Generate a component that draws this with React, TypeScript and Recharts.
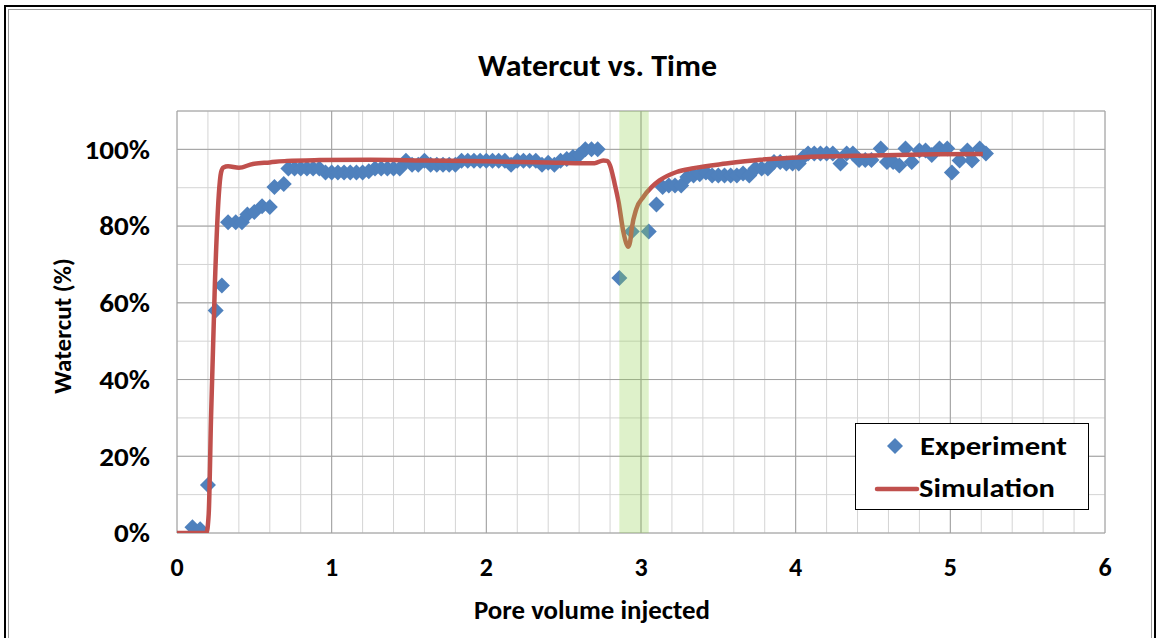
import React from 'react';
import { ComposedChart, Line, Scatter, XAxis, YAxis, CartesianGrid, ReferenceArea } from 'recharts';

// Experiment (pore volume injected, watercut %)
const expX = [
  0.10, 0.15, 0.20, 0.25, 0.29, 0.33, 0.38, 0.42, 0.455, 0.50, 0.55, 0.60, 0.63, 0.69,
  0.72, 0.76, 0.80, 0.84, 0.88, 0.92, 0.96, 1.00, 1.04, 1.08, 1.12, 1.16, 1.20, 1.24,
  1.28, 1.32, 1.36, 1.40, 1.44, 1.48, 1.52, 1.56, 1.60, 1.64, 1.68, 1.72, 1.76, 1.80,
  1.84, 1.88, 1.92, 1.96, 2.00, 2.04, 2.08, 2.12, 2.16, 2.20, 2.24, 2.28, 2.32, 2.36,
  2.40, 2.44, 2.48, 2.52, 2.56, 2.60, 2.64, 2.68, 2.72,
  2.86, 2.94, 3.05, 3.10, 3.14, 3.18, 3.22, 3.26, 3.30, 3.34, 3.38, 3.42, 3.46, 3.50,
  3.54, 3.58, 3.62, 3.66, 3.70, 3.74, 3.78, 3.82, 3.86, 3.90, 3.94, 3.98, 4.02, 4.05,
  4.08, 4.12, 4.16, 4.20, 4.24, 4.29, 4.33, 4.37, 4.41, 4.45, 4.49, 4.55, 4.59, 4.63,
  4.67, 4.71, 4.75, 4.80, 4.84, 4.88, 4.93, 4.98, 5.01, 5.06, 5.11, 5.14, 5.19, 5.23,
];
const expY = [
  1.5, 1.0, 12.5, 58, 64.5, 81, 81, 81, 83, 83.7, 85.2, 85, 90.2, 91,
  95, 95, 95, 95, 95, 95, 94, 94, 94, 94, 94, 94, 94, 94.3,
  95, 95, 95, 95, 95, 97, 96, 96, 97, 96, 96, 96, 96, 96,
  97, 97, 97, 97, 97, 97, 97, 97, 96, 97, 97, 97, 97, 96,
  96.5, 96, 97, 97.5, 98, 98.5, 100, 100, 100,
  66.5, 78.6, 78.6, 85.6, 90.2, 90.6, 90.6, 90.6, 92.8, 93.2, 93.5, 94, 93.2, 93.2,
  93.2, 93.2, 93.2, 93.7, 93.2, 95, 95, 95, 96.7, 96.7, 96.3, 96.3, 96.3, 98,
  98.9, 98.9, 98.9, 98.9, 98.9, 96.3, 98.9, 98.9, 97.2, 97.2, 97.2, 100.2, 96.7, 96.7,
  95.8, 100.2, 96.7, 99.7, 99.7, 98.5, 100.2, 100.2, 94, 97.1, 99.7, 97.1, 100.2, 98.9,
];

// Simulation curve
const simX = [
  0, 0.19, 0.205, 0.22, 0.245, 0.27, 0.285, 0.30, 0.33, 0.40, 0.49, 0.60, 0.71, 0.92,
  1.25, 1.60, 2.00, 2.40, 2.60, 2.70, 2.756, 2.78, 2.80, 2.83, 2.855, 2.886, 2.905,
  2.918, 2.93, 2.94, 2.97, 3.015, 3.07, 3.12, 3.23, 3.34, 3.55, 3.77, 4.07, 4.50, 4.90, 5.21,
];
const simY = [
  0, 0, 5, 30, 65, 88, 94, 95.3, 95.6, 95.2, 96.2, 96.6, 97, 97.2,
  97.3, 97.1, 96.9, 96.6, 96.4, 96.4, 97.1, 97, 95.8, 91, 86.3, 78.5, 75.5,
  74.6, 76, 79.3, 84.5, 87.6, 90.2, 91.9, 94.1, 95.1, 96.3, 97.3, 98, 98.4, 98.7, 98.8,
];

const xTicks = [0, 1, 2, 3, 4, 5, 6];
const yTicks = [0, 20, 40, 60, 80, 100];
const xMinor = Array.from({ length: 31 }, (_, i) => +(i * 0.2).toFixed(1));
const yMinor = Array.from({ length: 23 }, (_, i) => i * 5);
const band = [2.86, 3.05];

const experiment = expX.map((x, i) => ({ x, y: expY[i] }));
const simulation = simX.map((x, i) => ({ x, y: simY[i] }));

const FONT = 'Carlito, Lato, "Open Sans", sans-serif';
const BLUE = '#4F81BD';
const RED = '#C0504D';

const Diamond = (props: any) => {
  const { cx, cy } = props;
  if (cx == null || cy == null) return null;
  const r = 8;
  return <polygon points={`${cx},${cy - r} ${cx + r},${cy} ${cx},${cy + r} ${cx - r},${cy}`} fill={BLUE} />;
};

const YTick = (props: any) => {
  const { x, y, payload } = props;
  return (
    <text
      x={0}
      y={0}
      dy="0.36em"
      textAnchor="end"
      transform={`translate(${x},${y}) scale(1.12,1)`}
      fontFamily={FONT}
      fontWeight={700}
      fontSize={26}
      fill="#000"
    >
      {`${payload.value}%`}
    </text>
  );
};

export default function App() {
  return (
    <div style={{ position: 'absolute', left: 0, top: 0, width: 1159, height: 638, background: '#fff', overflow: 'hidden', fontFamily: FONT }}>
      <ComposedChart
        width={1159}
        height={638}
        margin={{ top: 111, right: 54, bottom: 45, left: 0 }}
        style={{ position: 'absolute', left: 0, top: 0 }}
      >
        <CartesianGrid stroke="#d4d4d4" strokeWidth={1} horizontalValues={yMinor} verticalValues={xMinor} />
        <CartesianGrid stroke="#a0a0a0" strokeWidth={1} horizontalValues={yTicks.concat([110])} verticalValues={xTicks} />
        <XAxis
          dataKey="x"
          type="number"
          domain={[0, 6]}
          ticks={xTicks}
          height={60}
          axisLine={false}
          tickLine={false}
          tickSize={0}
          tickMargin={25}
          tick={{ fill: '#000', fontSize: 26, fontWeight: 700, fontFamily: FONT }}
          allowDataOverflow
        />
        <YAxis
          dataKey="y"
          type="number"
          domain={[0, 110]}
          ticks={yTicks}
          width={177}
          axisLine={false}
          tickLine={false}
          tickSize={0}
          tickMargin={27}
          tick={<YTick />}
          allowDataOverflow
        />
        <Scatter data={experiment} dataKey="y" fill={BLUE} shape={<Diamond />} isAnimationActive={false} zIndex={600} />
        <Line data={simulation} dataKey="y" type="monotone" stroke={RED} strokeWidth={4.5} dot={false} activeDot={false} isAnimationActive={false} zIndex={700} />
        <ReferenceArea x1={band[0]} x2={band[1]} y1={0} y2={110} fill="#92D050" fillOpacity={0.3} stroke="none" zIndex={1500} ifOverflow="hidden" />
      </ComposedChart>
      <svg width={1159} height={638} style={{ position: 'absolute', left: 0, top: 0, pointerEvents: 'none' }}>
        <rect x={5} y={6} width={1150} height={660} fill="none" stroke="#000" strokeWidth={2} />
        <rect x={8.5} y={9.5} width={1143} height={660} fill="none" stroke="#9a9a9a" strokeWidth={1} />
        <text x={478} y={76} textLength={239} lengthAdjust="spacingAndGlyphs" fontFamily={FONT} fontWeight={700} fontSize={30} fill="#000">Watercut vs. Time</text>
        <text x={474} y={619} textLength={236} lengthAdjust="spacingAndGlyphs" fontFamily={FONT} fontWeight={700} fontSize={26} fill="#000">Pore volume injected</text>
        <text x={0} y={0} transform="translate(71,326) rotate(-90)" textAnchor="middle" fontFamily={FONT} fontWeight={700} fontSize={25} fill="#000">Watercut (%)</text>
        <rect x={855.5} y={423.5} width={233} height={86} fill="#fff" stroke="#000" strokeWidth={1} />
        <polygon points="895,438 903,446 895,454 887,446" fill={BLUE} />
        <text x={920} y={455} textLength={147} lengthAdjust="spacingAndGlyphs" fontFamily={FONT} fontWeight={700} fontSize={26} fill="#000">Experiment</text>
        <line x1={877} y1={489} x2={917} y2={489} stroke={RED} strokeWidth={4.5} strokeLinecap="round" />
        <text x={919} y={497} textLength={136} lengthAdjust="spacingAndGlyphs" fontFamily={FONT} fontWeight={700} fontSize={26} fill="#000">Simulation</text>
      </svg>
    </div>
  );
}
